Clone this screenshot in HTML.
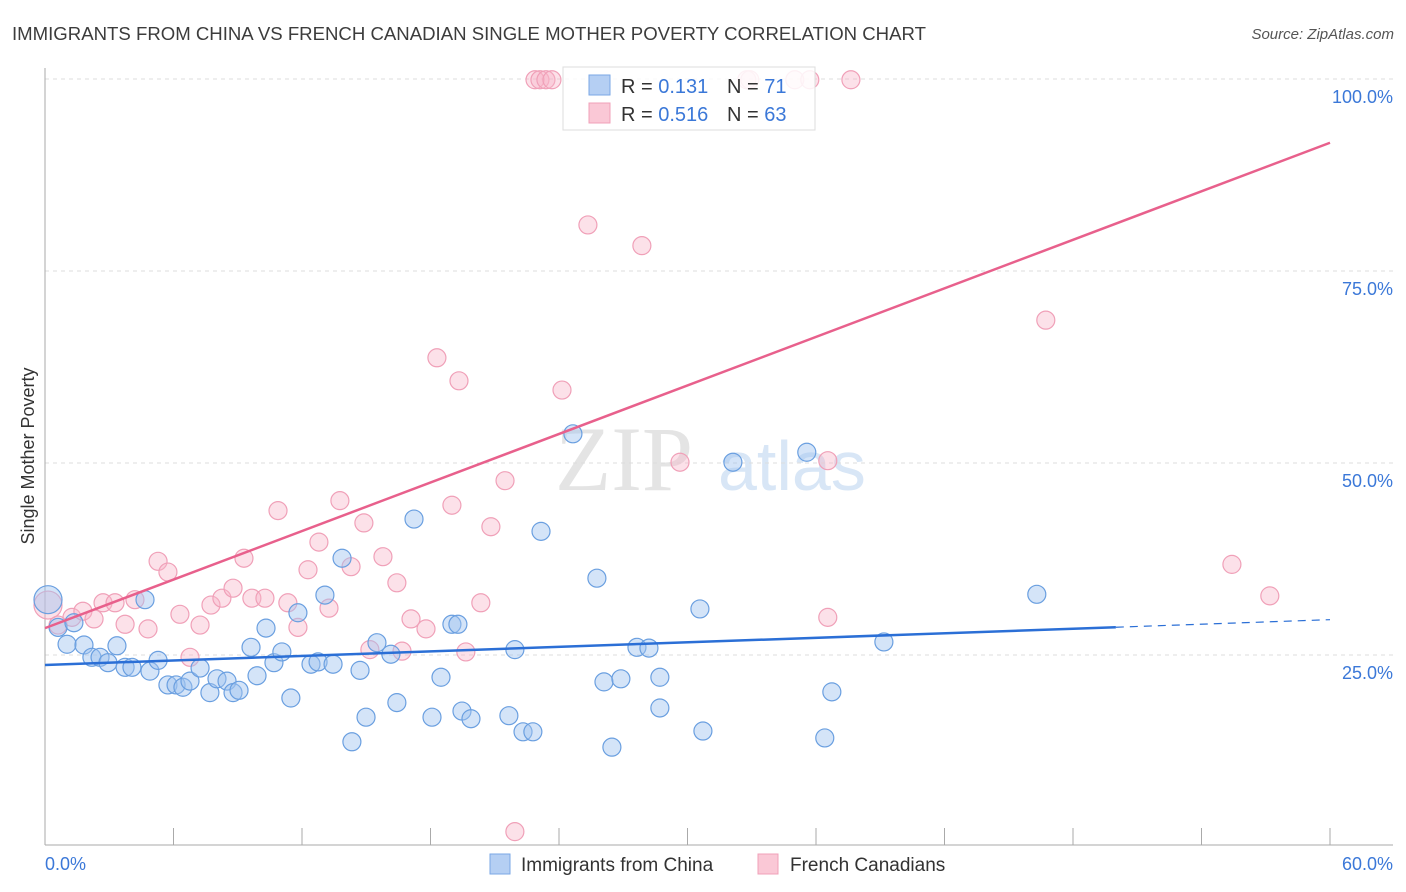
<!DOCTYPE html>
<html><head><meta charset="utf-8"><style>
body{margin:0;background:#fff;font-family:"Liberation Sans",sans-serif}
svg{display:block}
</style></head><body>
<svg id="chart" width="1406" height="892">
<text x="12" y="40" font-size="18.6" fill="#3c3c3c">IMMIGRANTS FROM CHINA VS FRENCH CANADIAN SINGLE MOTHER POVERTY CORRELATION CHART</text>
<text x="1394" y="39" font-size="15" fill="#555" text-anchor="end" font-style="italic">Source: ZipAtlas.com</text>
<text x="34" y="456" font-size="18" fill="#333" text-anchor="middle" transform="rotate(-90 34 456)">Single Mother Poverty</text>
<text x="555" y="490" font-size="92" fill="#e4e4e4" font-family="Liberation Serif">ZIP</text>
<text x="718" y="490" font-size="70" fill="#d8e6f6">atlas</text>
<g id="grid"></g><g id="pts"></g><g id="lines"></g>
<g>
<rect x="563" y="67" width="252" height="63" fill="#fff" fill-opacity="0.85" stroke="#ddd"/>
<rect x="589" y="75" width="21" height="20" fill="#b5cff3" stroke="#7aa7e6"/>
<rect x="589" y="103" width="21" height="20" fill="#fac8d6" stroke="#f0a0b8"/>
<text x="621" y="93" font-size="20" fill="#333">R = <tspan fill="#3b78d8"> 0.131</tspan></text>
<text x="727" y="93" font-size="20" fill="#333">N = <tspan fill="#3b78d8"> 71</tspan></text>
<text x="621" y="121" font-size="20" fill="#333">R = <tspan fill="#3b78d8">0.516</tspan></text>
<text x="727" y="121" font-size="20" fill="#333">N = <tspan fill="#3b78d8">63</tspan></text>
</g>
<g>
<rect x="490" y="854" width="20" height="20" fill="#b5cff3" stroke="#7aa7e6"/>
<text x="521" y="871" font-size="19" fill="#333">Immigrants from China</text>
<rect x="758" y="854" width="20" height="20" fill="#fac8d6" stroke="#f0a0b8"/>
<text x="790" y="871" font-size="19" fill="#333">French Canadians</text>
</g>
</svg>
<script>
const yTicks=[25,50,75,100];
const xTickLabels=["0.0%","60.0%"];
const chinaX=[0.14,0.61,1.03,1.35,1.82,2.19,2.57,2.94,3.36,3.74,4.06,4.67,4.90,5.28,5.74,6.12,6.44,6.77,7.24,7.70,8.03,8.50,8.78,9.06,9.62,9.90,10.32,10.69,11.06,11.48,11.81,12.42,12.75,13.07,13.45,13.87,14.33,14.71,14.99,15.50,16.15,16.43,17.23,18.07,18.49,19.00,19.28,19.47,19.89,21.66,21.94,22.32,22.78,23.16,24.65,25.77,26.10,26.47,26.89,27.64,28.20,28.71,28.71,30.58,30.72,32.12,35.57,36.41,36.74,39.17,46.31];
const chinaY=[32.2,28.6,26.4,29.2,26.3,24.7,24.7,24.0,26.2,23.4,23.4,32.2,22.9,24.3,21.1,21.1,20.8,21.6,23.3,20.1,21.9,21.6,20.1,20.4,26.0,22.3,28.5,24.0,25.4,19.4,30.5,23.8,24.1,32.8,23.8,37.6,13.7,23.0,16.9,26.6,25.1,18.8,42.7,16.9,22.1,29.0,29.0,17.7,16.7,17.1,25.7,15.0,15.0,41.1,53.8,35.0,21.5,13.0,21.9,26.0,25.9,22.1,18.1,31.0,15.1,50.1,51.4,14.2,20.2,26.7,32.9];
const frX=[0.14,0.61,1.26,1.77,2.29,2.71,3.27,3.74,4.20,4.81,5.28,5.74,6.30,6.77,7.24,7.75,8.26,8.78,9.29,9.66,10.27,10.88,11.34,11.81,12.28,12.79,13.26,13.77,14.29,14.89,15.17,15.78,16.43,16.67,17.09,17.79,18.30,19.00,19.33,19.65,20.35,20.82,21.48,21.94,22.88,23.11,23.39,23.67,24.14,25.35,27.87,29.65,32.77,32.91,35.01,35.71,36.55,36.55,37.63,46.73,55.42,57.19];
const frY=[31.5,28.9,29.9,30.7,29.7,31.8,31.8,29.0,32.2,28.4,37.2,35.8,30.3,24.7,28.9,31.5,32.4,33.7,37.6,32.4,32.4,43.8,31.8,28.6,36.1,39.7,31.1,45.1,36.5,42.2,25.7,37.8,34.4,25.5,29.7,28.4,63.7,44.5,60.7,25.4,31.8,41.7,47.7,2.0,99.9,99.9,99.9,99.9,59.5,81.0,78.3,50.1,99.9,99.9,99.9,99.9,50.3,29.9,99.9,68.6,36.8,32.7];
const chinaFit=[23.7,29.6]; const frFit=[28.5,91.7];
const X=v=>45+v*(1285/60), Y=v=>847-v*7.68;
const NS="http://www.w3.org/2000/svg";
function mk(t,a,p){const e=document.createElementNS(NS,t);for(const k in a)e.setAttribute(k,a[k]);p.appendChild(e);return e;}
const grid=document.getElementById('grid');
yTicks.forEach(t=>{
 const l=mk('line',{x1:45,x2:1393,y1:Y(t),y2:Y(t),stroke:'#ddd','stroke-dasharray':'4 4'},grid);
 
 
 const tx=mk('text',{x:1393,y:Y(t)+24,'font-size':18,fill:'#3b78d8','text-anchor':'end'},grid);
 tx.textContent=t.toFixed(1)+'%';
 
 
});
mk('line',{x1:45,x2:45,y1:68,y2:845,stroke:'#aaa'},grid);
mk('line',{x1:45,x2:1393,y1:845,y2:845,stroke:'#aaa'},grid);
for(let i=0;i<=10;i++){const t=mk('line',{x1:X(i*6),x2:X(i*6),y1:828,y2:845,stroke:'#aaa'},grid);
 
 }
const xl0=mk('text',{x:45,y:870,'font-size':18,fill:'#3b78d8'},grid);xl0.textContent=xTickLabels[0];


const xl1=mk('text',{x:1393,y:870,'font-size':18,fill:'#3b78d8','text-anchor':'end'},grid);xl1.textContent=xTickLabels[1];


const pts=document.getElementById('pts');
frX.forEach((x,i)=>{const c=mk('circle',{cx:X(x),cy:Y(frY[i]),r:i==0?14:9,fill:'rgba(248,180,200,0.4)',stroke:'#f0a0b8','stroke-width':1.2},pts);
 
 });
chinaX.forEach((x,i)=>{const c=mk('circle',{cx:X(x),cy:Y(chinaY[i]),r:i==0?14:9,fill:'rgba(160,195,240,0.45)',stroke:'#6a9fe0','stroke-width':1.2},pts);
 
 });
const lines=document.getElementById('lines');
const cy=x=>chinaFit[0]+(chinaFit[1]-chinaFit[0])*x/60;
const b1=mk('line',{x1:X(0),y1:Y(cy(0)),x2:X(50),y2:Y(cy(50)),stroke:'#2b6fd6','stroke-width':2.5},lines);


const b2=mk('line',{x1:X(50),y1:Y(cy(50)),x2:X(60),y2:Y(cy(60)),stroke:'#2b6fd6','stroke-width':1.2,'stroke-dasharray':'8 6'},lines);


const p1=mk('line',{x1:X(0),y1:Y(frFit[0]),x2:X(60),y2:Y(frFit[1]),stroke:'#e8608c','stroke-width':2.5},lines);


</script>
</body></html>
